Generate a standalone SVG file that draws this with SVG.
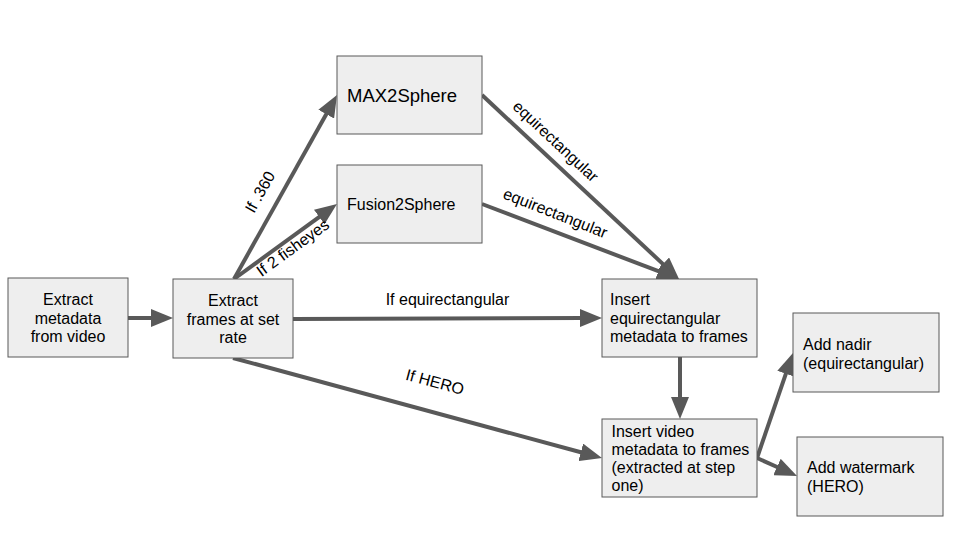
<svg xmlns="http://www.w3.org/2000/svg" width="960" height="540" viewBox="0 0 960 540">
<defs>
<style>
.node rect{fill:#eeeeee;stroke:#595959;stroke-width:1}
text{font-family:"Liberation Sans",Arial,sans-serif;font-size:16px;fill:#000}
.edge{stroke:#595959;stroke-width:4;fill:none;marker-end:url(#ah)}
.lbl{font-size:16px}
</style>
<marker id="ah" markerUnits="userSpaceOnUse" markerWidth="22" markerHeight="18" refX="2" refY="9" orient="auto">
<path d="M0,0 L22,9 L0,18 Z" fill="#595959"/>
</marker>
</defs>
<rect width="960" height="540" fill="#ffffff"/>
<g id="connectors">
<line class="edge" x1="128" y1="318" x2="153" y2="318"/>
<line class="edge" x1="234" y1="279" x2="327.2" y2="112.4"/>
<line class="edge" x1="234" y1="279" x2="320.8" y2="215.8"/>
<line class="edge" x1="482" y1="95" x2="664.4" y2="265.4"/>
<line class="edge" x1="482" y1="204" x2="660.3" y2="271.9"/>
<line class="edge" x1="293" y1="319" x2="582" y2="318"/>
<line class="edge" x1="233" y1="358" x2="582.7" y2="452.8"/>
<line class="edge" x1="680" y1="357" x2="680" y2="399"/>
<line class="edge" x1="757" y1="458" x2="786.5" y2="371.9"/>
<line class="edge" x1="757" y1="458" x2="778.8" y2="467.8"/>
<text class="lbl" text-anchor="middle" transform="translate(260,192) rotate(-60.76)" y="5.5">If .360</text>
<text class="lbl" text-anchor="middle" transform="translate(293,248) rotate(-36)" y="5">If 2 fisheyes</text>
<text class="lbl" text-anchor="middle" x="447.5" y="305">If equirectangular</text>
<text class="lbl" text-anchor="middle" transform="translate(555,142) rotate(43.06)" y="4.5">equirectangular</text>
<text class="lbl" text-anchor="middle" transform="translate(555,214) rotate(21.5)" y="4.5">equirectangular</text>
<text class="lbl" text-anchor="middle" transform="translate(435,382) rotate(15.2)" y="5.5">If HERO</text>
</g>
<g id="n1" class="node">
<rect x="8" y="278" width="120" height="79"/>
<text text-anchor="middle" x="68" y="305">Extract</text>
<text text-anchor="middle" x="68" y="323.5">metadata</text>
<text text-anchor="middle" x="68" y="342">from video</text>
</g>
<g id="n2" class="node">
<rect x="173" y="279" width="120" height="79"/>
<text text-anchor="middle" x="233" y="306">Extract</text>
<text text-anchor="middle" x="233" y="324.5">frames at set</text>
<text text-anchor="middle" x="233" y="343">rate</text>
</g>
<g id="n3" class="node">
<rect x="337" y="56" width="145" height="78"/>
<text x="347" y="102" style="font-size:18.5px">MAX2Sphere</text>
</g>
<g id="n4" class="node">
<rect x="337" y="165" width="145" height="78"/>
<text x="347" y="210">Fusion2Sphere</text>
</g>
<g id="n5" class="node">
<rect x="602" y="279" width="155" height="78"/>
<text x="610" y="305">Insert</text>
<text x="610" y="323.5">equirectangular</text>
<text x="610" y="342">metadata to frames</text>
</g>
<g id="n6" class="node">
<rect x="602" y="419" width="155" height="78"/>
<text x="611.5" y="436.5">Insert video</text>
<text x="611.5" y="454.8">metadata to frames</text>
<text x="611.5" y="473.1">(extracted at step</text>
<text x="611.5" y="491.4">one)</text>
</g>
<g id="n7" class="node">
<rect x="793" y="313" width="146" height="79"/>
<text x="803" y="350">Add nadir</text>
<text x="803" y="368.5">(equirectangular)</text>
</g>
<g id="n8" class="node">
<rect x="797" y="437" width="146" height="79"/>
<text x="807" y="473">Add watermark</text>
<text x="807" y="491.5">(HERO)</text>
</g>
</svg>
